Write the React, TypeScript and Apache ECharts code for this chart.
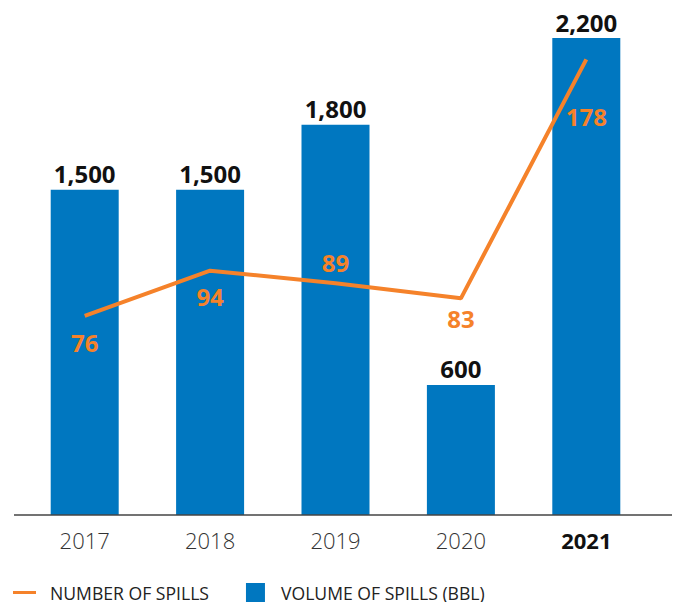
import React, { useEffect, useRef } from "react";
import * as echarts from "echarts";

const years = ["2017", "2018", "2019", "2020", "2021"];
const volumeOfSpills = [1500, 1500, 1800, 600, 2200];
const numberOfSpills = [76, 94, 89, 83, 178];
// label placement per point of the line (below / above)
const lineLabelPos = ["bottom", "bottom", "top", "bottom", "bottom"];
const lineLabelDist = [15, 14, 9, 8, 45];

const BLUE = "#0077C0";
const ORANGE = "#F5822A";
const FONT = "'Open Sans', 'Noto Sans', sans-serif";

export default function App() {
  const ref = useRef<HTMLDivElement>(null);
  useEffect(() => {
    if (!ref.current) return;
    const chart = echarts.init(ref.current, undefined, { renderer: "svg" });
    chart.setOption({
      animation: false,
      textStyle: { fontFamily: FONT },
      grid: { left: 22, right: 31, top: 38, bottom: 95 },
      legend: {
        left: 13,
        top: 583,
        padding: 0,
        itemWidth: 23,
        itemHeight: 19,
        itemGap: 37,
        textStyle: {
          fontSize: 17.6,
          color: "#222",
          fontFamily: FONT,
          padding: [0, 0, 0, 9],
        },
        data: [
          { name: "NUMBER OF SPILLS", icon: "path://M0,8H23V11H0Z" },
          { name: "VOLUME OF SPILLS (BBL)", icon: "path://M0,0H19V19H0Z" },
        ],
      },
      xAxis: {
        type: "category",
        data: years,
        axisLine: { show: false },
        axisTick: { show: false },
        axisLabel: {
          margin: 14,
          fontSize: 22,
          color: "#333",
          fontFamily: FONT,
          fontWeight: 300,
          formatter: (v: string, i: number) => (i === years.length - 1 ? `{b|${v}}` : v),
          rich: { b: { fontSize: 22, fontWeight: "bold", color: "#111", fontFamily: FONT } },
        },
      },
      yAxis: [
        { type: "value", min: 0, max: 2200, show: false, splitLine: { show: false } },
        { type: "value", min: -3.14, max: 186.5, show: false, splitLine: { show: false } },
      ],
      graphic: [
        {
          type: "line",
          shape: { x1: 14, y1: 515, x2: 678, y2: 515 },
          style: { stroke: "#444", lineWidth: 1.5 },
          z: 10,
        },
      ],
      series: [
        {
          name: "VOLUME OF SPILLS (BBL)",
          type: "bar",
          data: volumeOfSpills,
          barWidth: 68,
          itemStyle: { color: BLUE },
          label: {
            show: true,
            position: "top",
            distance: 4,
            fontSize: 24,
            fontWeight: "bold",
            color: "#111",
            fontFamily: FONT,
            formatter: (p: any) => Number(p.value).toLocaleString("en-US"),
          },
        },
        {
          name: "NUMBER OF SPILLS",
          type: "line",
          yAxisIndex: 1,
          data: numberOfSpills.map((v, i) => ({
            value: v,
            label: { position: lineLabelPos[i], distance: lineLabelDist[i] },
          })),
          symbol: "circle",
          symbolSize: 0,
          showSymbol: true,
          lineStyle: { color: ORANGE, width: 4 },
          itemStyle: { color: ORANGE },
          z: 5,
          label: {
            show: true,
            fontSize: 24,
            fontWeight: "bold",
            color: ORANGE,
            fontFamily: FONT,
          },
        },
      ],
    });
    return () => chart.dispose();
  }, []);
  return <div ref={ref} style={{ width: 680, height: 610, margin: -8 }} />;
}
